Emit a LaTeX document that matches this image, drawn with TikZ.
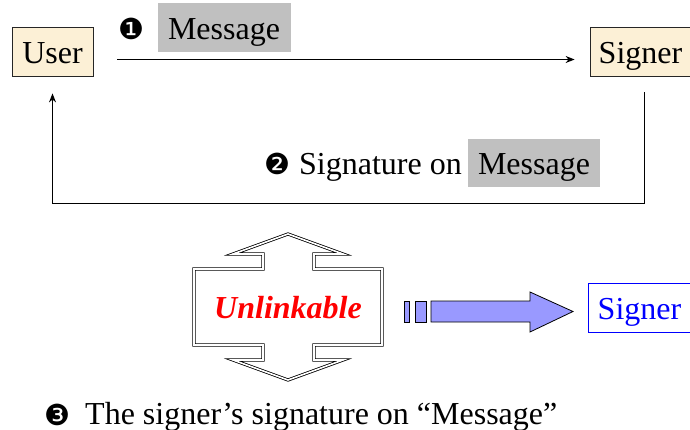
\documentclass[tikz,border=0pt]{standalone}
\usepackage{fontspec}
\setmainfont{Liberation Serif}
\newfontfamily\timesfont{Liberation Serif}
\newfontfamily\dingfont{DejaVu Sans}
\usetikzlibrary{arrows.meta,calc}
\definecolor{cream}{HTML}{FCF0D6}
\definecolor{msggray}{HTML}{C0C0C0}
\definecolor{arrowblue}{HTML}{9999FF}
\newcommand{\bigtext}{\timesfont\fontsize{32}{38}\selectfont}
\newcommand{\numfont}{\dingfont\fontsize{29}{32}\selectfont}

\begin{document}
\begin{tikzpicture}[x=1pt,y=-1pt,
  txt/.style={inner sep=0pt, font=\bigtext, text height=24pt, text depth=0pt},
  party/.style={txt, draw=black!85, fill=cream, line width=0.8pt, minimum height=49pt},
  msgbox/.style={txt, fill=msggray, minimum width=133pt, minimum height=49pt},
  stepno/.style={inner sep=0pt, font=\numfont},
  flow/.style={line width=1pt, -{Stealth[length=9pt,width=7pt]}},
  hollow/.style={draw=black, line width=0.8pt, double=white, double distance=1.6pt,
                 line join=miter},
  blockarrow/.style={draw=black, fill=arrowblue, line width=0.8pt, line join=miter}]
\useasboundingbox (0,0) rectangle (690,430);

% the two parties
\node[party, minimum width=81pt] (user) at (52.5,51.5) {User};
\node[party, minimum width=101pt] (signer) at (640.5,51.5) {Signer};

% step 1: message to the signer
\node[stepno] (n1) at (131,28.5) {❶};
\node[msgbox] (m1) at (224,27.5) {Message};
\draw[flow, shorten <=24pt, shorten >=15pt]
  ($(user.east)+(0,8)$) -- ($(signer.west)+(0,8)$);

% step 2: signature back to the user
\draw[flow, shorten <=16pt, shorten >=17pt]
  ($(signer.south)+(4,0)$) -- ++(0,127) -| (user.south);
\node[stepno] (n2) at (277,163.5) {❷};
\node[txt, anchor=west] (sig) at (299,163) {Signature on};
\node[msgbox, minimum width=132pt, minimum height=48pt] (m2) at (534,163) {Message};

% two-headed outline arrow
\draw[hollow] (194,269) -- (263,269) -- (263,254) -- (233,254) -- (288,234)
  -- (343,254) -- (314,254) -- (314,269) -- (382,269) -- (382,345)
  -- (314,345) -- (314,360) -- (343,360) -- (288,380) -- (233,360)
  -- (263,360) -- (263,345) -- (194,345) -- cycle;
\node[txt, text=red, font=\bigtext\bfseries\itshape] (unlink) at (288,306) {Unlinkable};

% striped block arrow
\draw[blockarrow] (404,301) rectangle (409,322);
\draw[blockarrow] (415,301) rectangle (426,322);
\draw[blockarrow] (431,301) -- (530,301) -- (530,292) -- (573,311.5)
  -- (530,332) -- (530,322) -- (431,322) -- cycle;
\node[txt, draw=blue, text=blue, line width=1pt, minimum width=103pt,
      minimum height=49pt] (signer2) at (639.5,307.5) {Signer};

% step 3
\node[stepno] (n3) at (57,414.5) {❸};
\node[txt, anchor=base west] (t3) at (85,424) {The signer’s signature on “Message”};
\end{tikzpicture}
\end{document}
